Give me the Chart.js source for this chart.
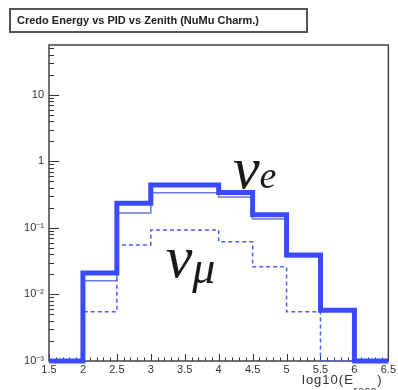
<!DOCTYPE html>
<html>
<head>
<meta charset="utf-8">
<script src="https://cdn.jsdelivr.net/npm/chart.js@4/dist/chart.umd.min.js"></script>
<style>
  html, body { margin: 0; padding: 0; background: #fff; }
  canvas { display: block; }
</style>
</head>
<body>
<canvas id="energyChart" width="398" height="390"></canvas>
<script>
// log10(E_reco) bin edges
var binEdges = [1.5, 2, 2.5, 3, 3.5, 4, 4.5, 5, 5.5, 6, 6.5];
// nu_e, all events
var nueAll = [0, 0.021, 0.235, 0.44, 0.44, 0.34, 0.157, 0.039, 0.0058, 0];
// nu_e, after PID cut
var nuePid = [0, 0.016, 0.168, 0.336, 0.336, 0.29, 0.136, 0.037, 0.0056, 0];
// nu_mu charm
var numu = [0, 0.0055, 0.0555, 0.093, 0.093, 0.062, 0.026, 0.0055, 0, 0];

var xTickValues = [1.5, 2, 2.5, 3, 3.5, 4, 4.5, 5, 5.5, 6, 6.5];
var xTickLabels = ["1.5", "2", "2.5", "3", "3.5", "4", "4.5", "5", "5.5", "6", "6.5"];
var yTickValues = [0.001, 0.01, 0.1, 1, 10];
var yTickLabels = ["10\u207B\u00B3", "10\u207B\u00B2", "10\u207B\u00B9", "1", "10"];

var yMin = 0.001;
var yMax = 56;

// one point per bin edge; empty bins sit on the bottom of the frame
function histPoints(vals) {
  return binEdges.map(function (e, i) {
    var v = vals[Math.min(i, vals.length - 1)];
    return { x: e, y: Math.max(v, yMin) };
  });
}

var rootFrame = {
  id: "rootFrame",
  beforeDatasetsDraw: function (chart) {
    var ctx = chart.ctx, a = chart.chartArea;
    var xs = chart.scales.x, ys = chart.scales.y;
    ctx.save();
    ctx.strokeStyle = "#333";
    ctx.lineWidth = 1;
    ctx.beginPath();
    // x ticks, inside the frame
    for (var i = 0; i <= 50; i++) {
      var px = Math.round(xs.getPixelForValue(1.5 + i * 0.1)) + 0.5;
      var len = i % 5 === 0 ? 7 : 3.5;
      ctx.moveTo(px, a.bottom);
      ctx.lineTo(px, a.bottom - len);
    }
    // y ticks, one per decade step
    for (var d = -3; d <= 1; d++) {
      for (var m = 1; m <= 9; m++) {
        var v = m * Math.pow(10, d);
        if (v > yMax) break;
        var py = Math.round(ys.getPixelForValue(v)) + 0.5;
        ctx.moveTo(a.left, py);
        ctx.lineTo(a.left + (m === 1 ? 10 : 5), py);
      }
    }
    ctx.stroke();
    // frame
    ctx.strokeStyle = "#444";
    ctx.lineWidth = 1.5;
    ctx.strokeRect(a.left, a.top, a.right - a.left, a.bottom - a.top);
    ctx.restore();
  },
  afterDraw: function (chart) {
    var ctx = chart.ctx;
    var xs = chart.scales.x, ys = chart.scales.y;
    ctx.save();

    // title pave
    ctx.fillStyle = "#fff";
    ctx.fillRect(10, 9, 297, 23);
    ctx.strokeStyle = "#555";
    ctx.lineWidth = 2;
    ctx.strokeRect(10, 9, 297, 23);
    ctx.fillStyle = "#222";
    ctx.font = "bold 11px 'Liberation Sans', Arial, sans-serif";
    ctx.textBaseline = "middle";
    ctx.textAlign = "left";
    ctx.fillText("Credo Energy vs PID vs Zenith (NuMu Charm.)", 17, 21, 281);

    // x axis title
    ctx.fillStyle = "#333";
    ctx.textBaseline = "alphabetic";
    ctx.letterSpacing = "1px";
    ctx.font = "13px 'Liberation Sans', Arial, sans-serif";
    ctx.fillText("log10(E", 302, 384);
    var w = ctx.measureText("log10(E").width;
    ctx.font = "10px 'Liberation Sans', Arial, sans-serif";
    ctx.fillText("reco", 302 + w, 394);
    var w2 = ctx.measureText("reco").width;
    ctx.font = "13px 'Liberation Sans', Arial, sans-serif";
    ctx.fillText(")", 302 + w + w2, 384);
    ctx.letterSpacing = "0px";

    // species labels
    ctx.fillStyle = "#1a1a1a";
    var ex = xs.getPixelForValue(4.21), ey = ys.getPixelForValue(0.40);
    ctx.font = "italic 60px 'Liberation Serif', 'DejaVu Serif', serif";
    ctx.fillText("\u03BD", ex, ey);
    var nw = ctx.measureText("\u03BD").width;
    ctx.font = "italic 38px 'Liberation Serif', 'DejaVu Serif', serif";
    ctx.fillText("e", ex + nw, ey);

    var mx = xs.getPixelForValue(3.22), my = ys.getPixelForValue(0.0183);
    ctx.font = "italic 60px 'Liberation Serif', 'DejaVu Serif', serif";
    ctx.fillText("\u03BD", mx, my);
    ctx.font = "italic 46px 'Liberation Serif', 'DejaVu Serif', serif";
    ctx.fillText("\u03BC", mx + nw, my + 6);

    ctx.restore();
  }
};

var ctx = document.getElementById("energyChart").getContext("2d");
var energyChart = new Chart(ctx, {
  type: "line",
  data: {
    datasets: [
      {
        label: "nu_e",
        data: histPoints(nueAll),
        stepped: "before",
        borderColor: "#3a4bff",
        borderWidth: 5,
        pointRadius: 0,
        fill: false,
        clip: 8,
        order: 1,
      },
      {
        label: "nu_e PID",
        data: histPoints(nuePid),
        stepped: "before",
        borderColor: "#6a78d8",
        borderWidth: 1.5,
        pointRadius: 0,
        fill: false,
        clip: 8,
        order: 2,
      },
      {
        label: "nu_mu",
        data: histPoints(numu),
        stepped: "before",
        borderColor: "#4a5cff",
        borderWidth: 1.5,
        borderDash: [4, 3],
        pointRadius: 0,
        fill: false,
        clip: 8,
        order: 3,
      },
    ],
  },
  options: {
    responsive: false,
    animation: false,
    devicePixelRatio: 1,
    layout: { padding: { top: 45, right: 9, left: 0, bottom: 0 } },
    plugins: {
      legend: { display: false },
      tooltip: { enabled: false },
      title: { display: false },
    },
    scales: {
      x: {
        type: "linear",
        min: 1.5,
        max: 6.5,
        afterBuildTicks: function (s) {
          s.ticks = xTickValues.map(function (v) { return { value: v }; });
        },
        afterFit: function (s) { s.height = 29; },
        grid: { display: false, drawTicks: false, tickLength: 0 },
        border: { display: false },
        ticks: {
          autoSkip: false,
          maxRotation: 0,
          padding: 2,
          color: "#333",
          font: { family: "'Liberation Sans', Arial, sans-serif", size: 11 },
          callback: function (v, i) { return xTickLabels[i]; },
        },
      },
      y: {
        type: "logarithmic",
        min: yMin,
        max: yMax,
        afterBuildTicks: function (s) {
          s.ticks = yTickValues.map(function (v) { return { value: v }; });
        },
        afterFit: function (s) { s.width = 49; },
        grid: { display: false, drawTicks: false, tickLength: 0 },
        border: { display: false },
        ticks: {
          autoSkip: false,
          padding: 5,
          color: "#333",
          font: { family: "'Liberation Sans', Arial, sans-serif", size: 11 },
          callback: function (v, i) { return yTickLabels[i]; },
        },
      },
    },
  },
  plugins: [rootFrame],
});
</script>
</body>
</html>
